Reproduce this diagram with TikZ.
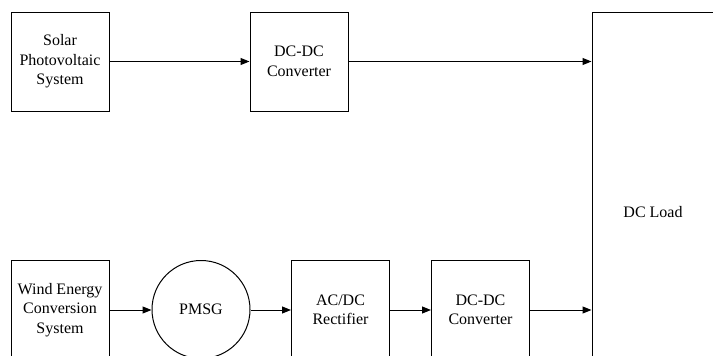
\documentclass[tikz,border=0pt]{standalone}
\usepackage{fontspec}
\setmainfont{Liberation Serif}
\usetikzlibrary{arrows.meta}
\begin{document}
\begin{tikzpicture}[x=1pt,y=1pt,
  blk/.style={draw, line width=1pt, minimum width=98pt, minimum height=99pt, inner sep=0pt, align=center, font=\fontsize{16}{19.5}\selectfont},
  arr/.style={line width=1pt, -{Triangle[length=9pt,width=7pt]}}]
\useasboundingbox (0,0) rectangle (713,-356);
\node[blk] (solar) at (60,-61.5) {Solar\\Photovoltaic\\System};
\node[blk] (dc1) at (299,-61.5) {DC-DC\\Converter};
\node[blk, minimum width=122pt, minimum height=400pt] (load) at (653,-212) {DC Load};
\node[blk, minimum height=100pt] (wind) at (60,-310) {Wind Energy\\Conversion\\System};
\node[draw, line width=1pt, circle, minimum size=98pt, inner sep=0pt, font=\fontsize{16}{19.5}\selectfont] (pmsg) at (201,-309.5) {PMSG};
\node[blk, minimum height=100pt] (rect) at (340.5,-310) {AC/DC\\Rectifier};
\node[blk, minimum height=100pt] (dc2) at (480.5,-310) {DC-DC\\Converter};
\draw[arr] (solar.east) -- (dc1.west);
\draw[arr] (dc1.east) -- (dc1.east -| load.west);
\draw[arr] (wind.east) -- (wind.east -| pmsg.west);
\draw[arr] (rect.west -| pmsg.east) -- (rect.west);
\draw[arr] (rect.east) -- (dc2.west);
\draw[arr] (dc2.east) -- (dc2.east -| load.west);
\end{tikzpicture}
\end{document}
